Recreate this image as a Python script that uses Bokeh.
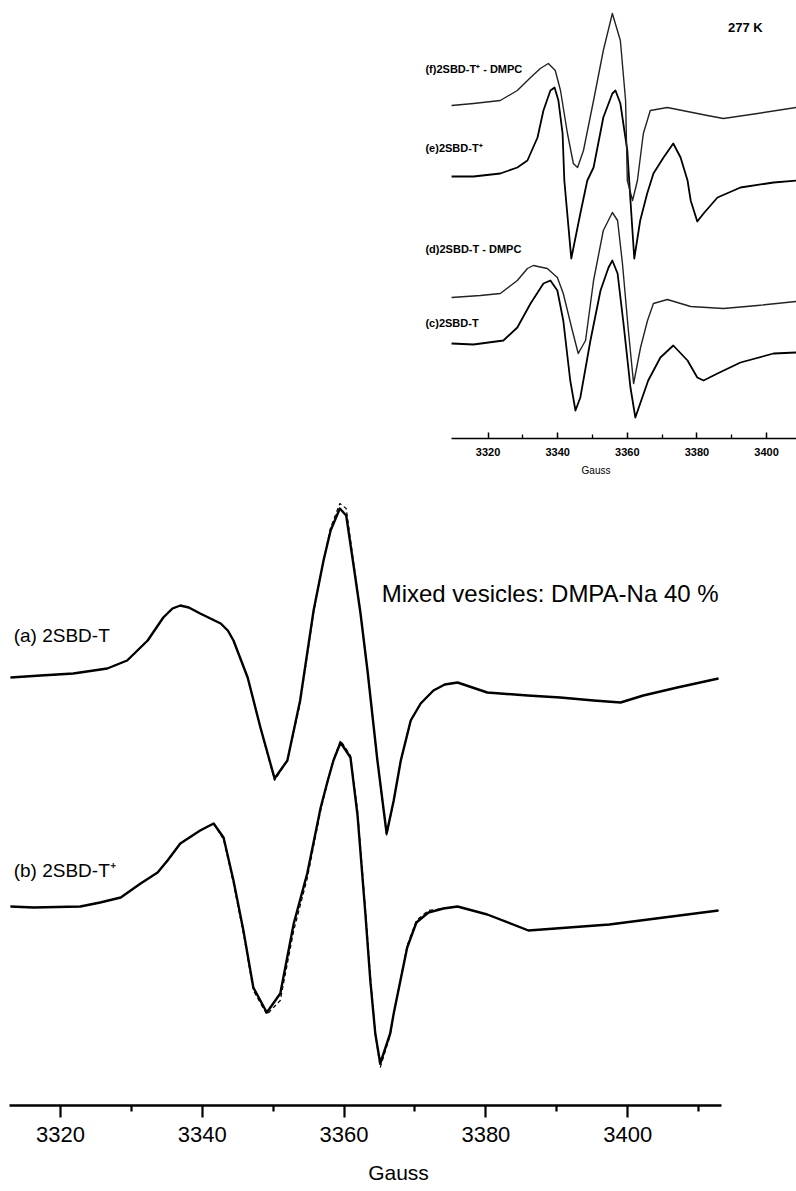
from bokeh.plotting import figure
from bokeh.models import Range1d, FixedTicker, Spacer
from bokeh.layouts import column, row
from bokeh.embed import file_html
from bokeh.resources import INLINE
from bokeh.core.properties import value

# ---------------- main panel: mixed vesicles, DMPA-Na 40 % ----------------
a_field = [3312.95, 3317.2, 3321.8, 3326.6, 3329.4, 3332.3, 3334.5, 3335.8, 3336.9, 3338.1,
           3339.7, 3342.6, 3343.6, 3344.4, 3346.4, 3348.2, 3350.2, 3352.0, 3353.8, 3355.7,
           3357.1, 3358.1, 3359.4, 3360.3, 3361.3, 3362.3, 3363.3, 3364.7, 3366.0, 3367.0,
           3368.0, 3369.4, 3370.8, 3372.6, 3374.2, 3376.0, 3380.2, 3385.9, 3390.5, 3395.2,
           3399.0, 3402.2, 3407.0, 3412.8]
a_signal = [4.28, 4.30, 4.32, 4.37, 4.45, 4.65, 4.88, 4.97, 5.00, 4.98,
            4.92, 4.82, 4.75, 4.65, 4.28, 3.78, 3.27, 3.45, 4.05, 4.95,
            5.45, 5.75, 5.97, 5.90, 5.42, 4.93, 4.35, 3.45, 2.72, 3.05,
            3.45, 3.85, 4.02, 4.15, 4.21, 4.23, 4.13, 4.10, 4.08, 4.05,
            4.03, 4.10, 4.18, 4.27]
a_fit = [4.28, 4.30, 4.32, 4.37, 4.45, 4.65, 4.88, 4.97, 5.00, 4.98,
         4.92, 4.82, 4.75, 4.65, 4.28, 3.78, 3.25, 3.45, 4.02, 4.93,
         5.45, 5.78, 6.02, 5.97, 5.45, 4.93, 4.35, 3.45, 2.70, 3.05,
         3.45, 3.85, 4.02, 4.15, 4.21, 4.23, 4.13, 4.10, 4.08, 4.05,
         4.03, 4.10, 4.18, 4.27]

b_field = [3312.95, 3316.2, 3322.8, 3325.6, 3328.5, 3331.3, 3333.7, 3335.1, 3336.9, 3339.7,
           3341.6, 3343.0, 3344.4, 3345.8, 3347.2, 3349.1, 3351.0, 3352.9, 3354.8, 3356.7,
           3357.7, 3358.5, 3359.5, 3360.9, 3361.9, 3363.0, 3363.7, 3364.4, 3365.1, 3366.5,
           3367.0, 3368.9, 3370.2, 3371.9, 3374.0, 3376.0, 3380.2, 3386.0, 3397.4, 3412.8]
b_signal = [1.99, 1.98, 1.99, 2.03, 2.08, 2.22, 2.33, 2.45, 2.62, 2.75,
            2.82, 2.68, 2.25, 1.75, 1.18, 0.93, 1.12, 1.82, 2.32, 2.98,
            3.25, 3.45, 3.63, 3.48, 2.90, 1.92, 1.25, 0.72, 0.42, 0.72,
            0.92, 1.58, 1.83, 1.93, 1.97, 1.99, 1.91, 1.75, 1.81, 1.95]
b_fit = [1.99, 1.98, 1.99, 2.03, 2.08, 2.22, 2.33, 2.45, 2.62, 2.75,
         2.82, 2.66, 2.22, 1.72, 1.15, 0.91, 1.05, 1.75, 2.27, 2.95,
         3.24, 3.46, 3.65, 3.50, 2.95, 1.98, 1.30, 0.72, 0.38, 0.70,
         0.92, 1.60, 1.85, 1.95, 1.97, 1.99, 1.91, 1.75, 1.81, 1.95]

main_labels = ["(a) 2SBD-T", "(b) 2SBD-T\u207a"]
main_title = "Mixed vesicles: DMPA-Na 40 %"
main_ticks = [3320, 3340, 3360, 3380, 3400]
main_minor = [3330, 3350, 3370, 3390, 3410]

# ---------------- inset: 277 K ----------------
f_field = [3309.5, 3315.8, 3323.5, 3328.4, 3332.2, 3335.0, 3337.3, 3339.3, 3340.8, 3342.8,
           3344.5, 3345.7, 3347.4, 3350.3, 3353.1, 3355.7, 3358.0, 3359.5, 3360.0, 3361.5,
           3362.9, 3364.6, 3366.6, 3371.5, 3383.0, 3387.6, 3397.4, 3408.6]
f_signal = [3.33, 3.35, 3.38, 3.48, 3.61, 3.70, 3.75, 3.68, 3.48, 3.05,
            2.75, 2.71, 2.88, 3.38, 3.88, 4.25, 3.98, 3.38, 2.58, 2.38,
            2.58, 3.05, 3.28, 3.31, 3.23, 3.20, 3.25, 3.31]

e_field = [3309.5, 3315.8, 3323.5, 3328.4, 3331.3, 3334.2, 3335.9, 3337.9, 3339.1, 3340.2,
           3341.4, 3341.9, 3343.9, 3346.5, 3348.5, 3350.3, 3353.1, 3355.7, 3356.6, 3358.0,
           3360.0, 3360.9, 3362.0, 3363.7, 3365.7, 3367.5, 3370.4, 3373.2, 3375.3, 3377.3,
           3378.2, 3380.1, 3381.9, 3385.9, 3392.5, 3402.0, 3408.6]
e_signal = [2.62, 2.62, 2.65, 2.71, 2.78, 3.01, 3.28, 3.48, 3.51, 3.38,
            3.05, 2.58, 1.80, 2.25, 2.58, 2.71, 3.21, 3.45, 3.48, 3.35,
            2.88, 2.38, 1.80, 2.18, 2.45, 2.65, 2.81, 2.95, 2.81, 2.58,
            2.38, 2.17, 2.25, 2.41, 2.51, 2.56, 2.58]

d_field = [3309.5, 3317.8, 3323.5, 3328.4, 3331.3, 3333.0, 3337.0, 3339.9, 3341.6, 3344.2,
           3345.9, 3348.0, 3350.3, 3353.1, 3355.7, 3357.2, 3358.6, 3360.3, 3361.8, 3363.8,
           3365.8, 3367.5, 3371.5, 3378.2, 3387.6, 3397.4, 3408.6]
d_signal = [1.41, 1.43, 1.45, 1.58, 1.70, 1.73, 1.70, 1.61, 1.45, 1.08,
            0.85, 0.98, 1.58, 2.08, 2.26, 2.18, 1.75, 1.08, 0.55, 0.91,
            1.18, 1.35, 1.39, 1.32, 1.30, 1.33, 1.37]

c_field = [3309.5, 3315.8, 3324.4, 3328.4, 3332.2, 3335.9, 3337.9, 3339.9, 3341.6, 3343.6,
           3345.1, 3346.5, 3349.4, 3352.3, 3354.6, 3355.7, 3357.2, 3358.9, 3360.9, 3362.3,
           3363.7, 3366.0, 3369.5, 3373.2, 3377.3, 3380.1, 3381.9, 3385.9, 3392.5, 3402.0,
           3408.6]
c_signal = [0.95, 0.94, 0.98, 1.11, 1.35, 1.55, 1.58, 1.48, 1.18, 0.58,
            0.28, 0.41, 0.98, 1.48, 1.71, 1.78, 1.65, 1.15, 0.51, 0.21,
            0.35, 0.58, 0.81, 0.93, 0.78, 0.61, 0.58, 0.65, 0.76, 0.85,
            0.86]

inset_labels = ["(f)2SBD-T\u207a - DMPC", "(e)2SBD-T\u207a", "(d)2SBD-T - DMPC", "(c)2SBD-T"]
inset_title = "277 K"
inset_ticks = [3320, 3340, 3360, 3380, 3400]
inset_minor = [3330, 3350, 3370, 3390]

SANS = "Liberation Sans"

# ---------------- inset figure ----------------
ins = figure(width=401, height=492, x_range=Range1d(3293.4, 3408.6), y_range=Range1d(0, 4.38),
             output_backend="svg", toolbar_location=None, y_axis_location=None, title=None,
             min_border_left=0, min_border_right=0, min_border_top=0, min_border_bottom=54)
ins.grid.visible = False
ins.outline_line_color = None
ax = ins.xaxis[0]
ax.ticker = FixedTicker(ticks=inset_ticks, minor_ticks=inset_minor)
ax.bounds = (3309.5, 3408.6)
ax.axis_line_width = 1.6
ax.major_tick_in = 6
ax.major_tick_out = 0
ax.minor_tick_in = 4
ax.minor_tick_out = 0
ax.major_tick_line_width = 1.5
ax.minor_tick_line_width = 1.3
ax.major_label_text_font = SANS
ax.major_label_text_font_style = "bold"
ax.major_label_text_font_size = "11px"
ax.major_label_text_color = "black"
ax.major_label_standoff = 9
ax.axis_label = "Gauss"
ax.axis_label_text_font = SANS
ax.axis_label_text_font_style = "normal"
ax.axis_label_text_font_size = "10px"
ax.axis_label_text_color = "black"
ax.axis_label_standoff = 6

ins.line(c_field, c_signal, line_color="black", line_width=1.8, line_join="round")
ins.line(d_field, d_signal, line_color="#222222", line_width=1.4, line_join="round")
ins.line(e_field, e_signal, line_color="black", line_width=1.8, line_join="round")
ins.line(f_field, f_signal, line_color="#222222", line_width=1.4, line_join="round")

ins.text(x=[3302.0] * 4, y=[3.70, 2.91, 1.90, 1.16], text=inset_labels,
         text_font=value(SANS), text_font_style="bold", text_font_size="11px",
         text_baseline="middle", text_align="left", text_color="black")
ins.text(x=[3393.9], y=[4.11], text=[inset_title], text_font=value(SANS),
         text_font_style="bold", text_font_size="13px", text_baseline="middle",
         text_align="center", text_color="black")

# ---------------- main figure ----------------
p = figure(width=796, height=698, x_range=Range1d(3311.54, 3423.81), y_range=Range1d(0, 6.13),
           output_backend="svg", toolbar_location=None, y_axis_location=None, title=None,
           min_border_left=0, min_border_right=0, min_border_top=0, min_border_bottom=85)
p.grid.visible = False
p.outline_line_color = None
px = p.xaxis[0]
px.ticker = FixedTicker(ticks=main_ticks, minor_ticks=main_minor)
px.bounds = (3312.8, 3413.3)
px.axis_line_width = 2.6
px.major_tick_in = 0
px.major_tick_out = 12
px.minor_tick_in = 0
px.minor_tick_out = 6
px.major_tick_line_width = 2.2
px.minor_tick_line_width = 2.2
px.major_label_text_font = SANS
px.major_label_text_font_size = "22px"
px.major_label_text_color = "black"
px.major_label_standoff = 9
px.axis_label = "Gauss"
px.axis_label_text_font = SANS
px.axis_label_text_font_style = "normal"
px.axis_label_text_font_size = "21px"
px.axis_label_text_color = "black"
px.axis_label_standoff = 16

p.line(a_field, a_signal, line_color="black", line_width=2.4, line_join="round")
p.line(a_field, a_fit, line_color="black", line_width=1.2, line_dash="4 3")
p.line(b_field, b_signal, line_color="black", line_width=2.4, line_join="round")
p.line(b_field, b_fit, line_color="black", line_width=1.2, line_dash="4 3")

p.text(x=[3313.4, 3313.4], y=[4.70, 2.35], text=main_labels, text_font=value(SANS),
       text_font_size="19px", text_baseline="middle", text_align="left", text_color="black")
p.text(x=[3365.3], y=[5.12], text=[main_title], text_font=value(SANS),
       text_font_size="24px", text_baseline="middle", text_align="left", text_color="black")

layout = column(row(Spacer(width=395, height=492), ins), p)
open("out.html", "w").write(file_html(layout, INLINE))
